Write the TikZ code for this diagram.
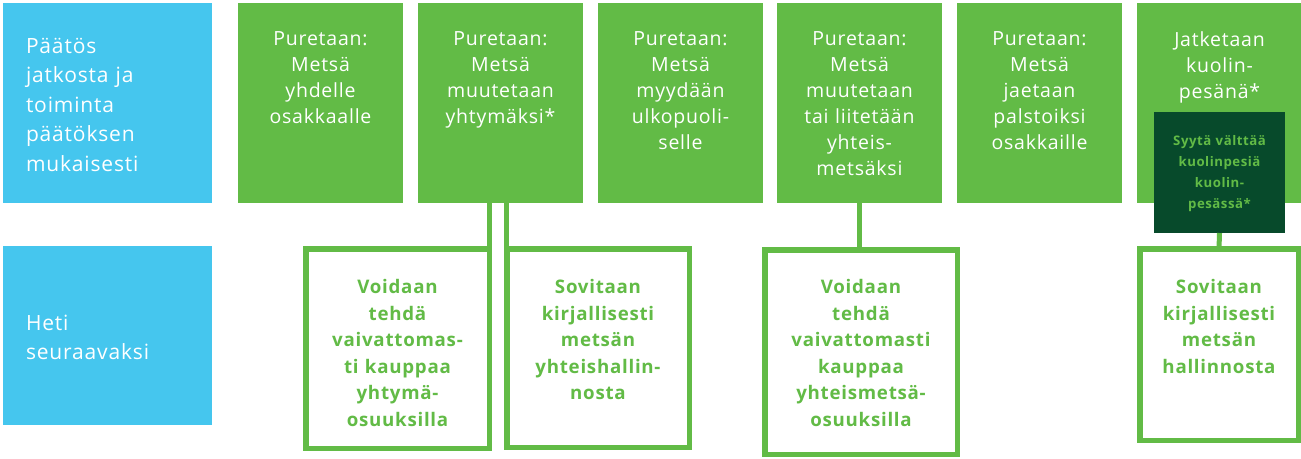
\documentclass[tikz,border=0pt]{standalone}
\usepackage{fontspec}
\setmainfont{Open Sans}[LetterSpace=4]
\usetikzlibrary{positioning}
\definecolor{taivas}{HTML}{45C6EE}
\definecolor{vihrea}{HTML}{62BB46}
\definecolor{tumma}{HTML}{074A2B}

\begin{document}
\begin{tikzpicture}[x=1pt, y=-1pt,
    every node/.style={inner sep=0, outer sep=0},
    sini/.style={fill=taivas, anchor=north west, minimum width=209pt},
    vihr/.style={fill=vihrea, anchor=north west, minimum width=165pt, minimum height=200pt},
    tumm/.style={fill=tumma, anchor=north west, minimum width=131pt, minimum height=121pt},
    kehys/.style={draw=vihrea, line width=5.5pt, fill=white, anchor=north west},
    otsikko/.style={text=white, text width=190pt, align=left, font=\fontsize{21}{29.5}\selectfont},
    valk/.style={text=white, text width=160pt, align=center, font=\fontsize{19.5}{26}\selectfont},
    lihav/.style={text=vihrea, text width=180pt, align=center, font=\bfseries\fontsize{18.7}{26.5}\selectfont},
    pieni/.style={text=vihrea, text width=125pt, align=center, font=\bfseries\fontsize{13.2}{21}\selectfont},
    yhteys/.style={draw=vihrea, line width=5pt}]
  \useasboundingbox (0,0) rectangle (1301,458);

  % vaiheet
  \node[sini, minimum height=200pt] (Paatos) at (3,3) {};
  \node[sini, minimum height=179pt] (Heti) at (3,246) {};
  \node[otsikko, below right=35pt and 23pt of Paatos.north west] (PaatosT) {Päätös\\jatkosta ja\\toiminta\\päätöksen\\mukaisesti};
  \node[otsikko, below right=69pt and 23pt of Heti.north west] (HetiT) {Heti\\seuraavaksi};

  % paatokset
  \node[vihr] (P1) at (238,3) {};
  \node[vihr] (P2) at (418,3) {};
  \node[vihr] (P3) at (598,3) {};
  \node[vihr] (P4) at (777,3) {};
  \node[vihr] (P5) at (957,3) {};
  \node[vihr] (P6) at (1137,3) {};
  \node[valk, below=29pt of P1.north] (P1T) {Puretaan:\\Metsä\\yhdelle\\osakkaalle};
  \node[valk, below=29pt of P2.north] (P2T) {Puretaan:\\Metsä\\muutetaan\\yhtymäksi*};
  \node[valk, below=29pt of P3.north] (P3T) {Puretaan:\\Metsä\\myydään\\ulkopuoli-\\selle};
  \node[valk, below=29pt of P4.north] (P4T) {Puretaan:\\Metsä\\muutetaan\\tai liitetään\\yhteis-\\metsäksi};
  \node[valk, below=29pt of P5.north] (P5T) {Puretaan:\\Metsä\\jaetaan\\palstoiksi\\osakkaille};
  \node[valk, below=29pt of P6.north] (P6T) {Jatketaan\\kuolin-\\pesänä*};
  \node[tumm] (Syy) at (1154,112) {};
  \node[pieni, below=23pt of Syy.north] (SyyT) {Syytä välttää\\kuolinpesiä\\kuolin-\\pesässä*};

  % seuraavaksi
  \node[kehys, minimum width=183.5pt, minimum height=199.5pt] (V1) at (305.75,248.75) {};
  \node[kehys, minimum width=182.5pt, minimum height=198.5pt] (S1) at (506.75,248.75) {};
  \node[kehys, minimum width=192.5pt, minimum height=204.5pt] (V2) at (764.75,249.75) {};
  \node[kehys, minimum width=158.5pt, minimum height=191.5pt] (S2) at (1139.75,248.75) {};
  \node[lihav, below=31pt of V1.north] (V1T) {Voidaan\\tehdä\\vaivattomas-\\ti kauppaa\\yhtymä-\\osuuksilla};
  \node[lihav, below=31pt of S1.north] (S1T) {Sovitaan\\kirjallisesti\\metsän\\yhteishallin-\\nosta};
  \node[lihav, below=30pt of V2.north] (V2T) {Voidaan\\tehdä\\vaivattomasti\\kauppaa\\yhteismetsä-\\osuuksilla};
  \node[lihav, below=31pt of S2.north] (S2T) {Sovitaan\\kirjallisesti\\metsän\\hallinnosta};

  \draw[yhteys] (V1.north east) -- (V1.north east |- P2.south);
  \draw[yhteys] (S1.north west) -- (S1.north west |- P2.south);
  \draw[yhteys] (P4.south) -- (P4.south |- V2.north);
  \draw[yhteys] (Syy.south) -- (S2.north);
\end{tikzpicture}
\end{document}
